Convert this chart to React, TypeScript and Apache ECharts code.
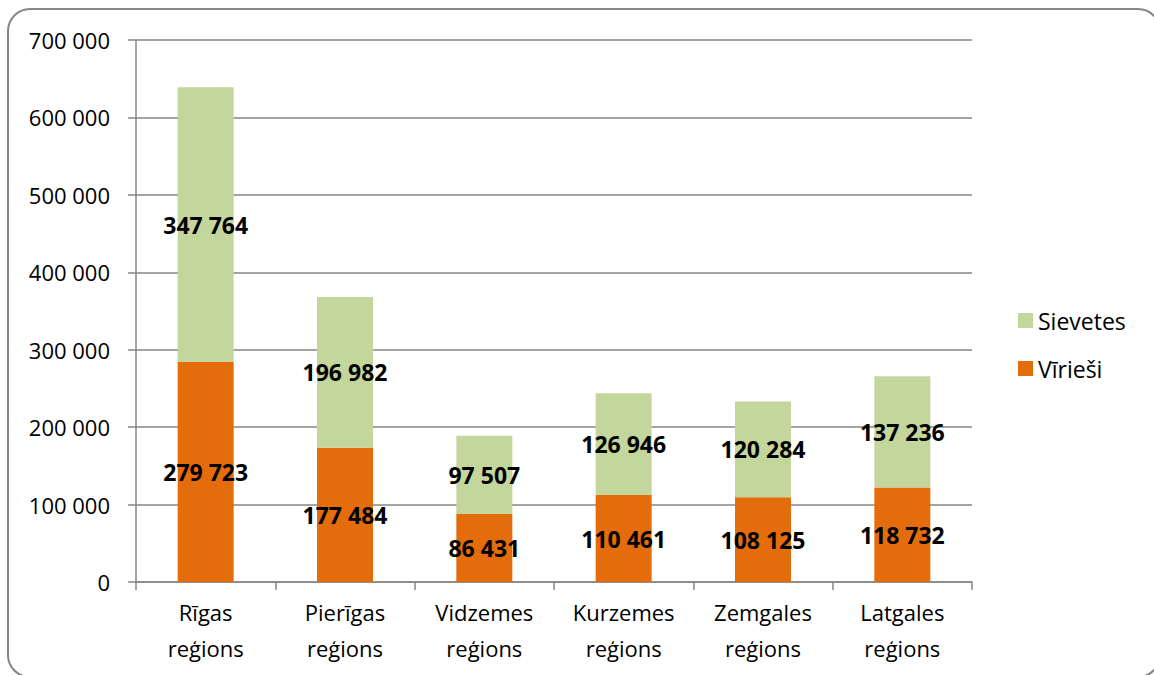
import React, { useEffect, useRef } from "react";
import * as echarts from "echarts";

const categories = ["Rīgas\nreģions", "Pierīgas\nreģions", "Vidzemes\nreģions", "Kurzemes\nreģions", "Zemgales\nreģions", "Latgales\nreģions"];
// bar heights
const menBars = [284300, 173300, 87700, 112300, 109300, 122200];
const womenBars = [354800, 194800, 101100, 131600, 123900, 143600];
// numbers printed on the bars
const menLabels = [279723, 177484, 86431, 110461, 108125, 118732];
const womenLabels = [347764, 196982, 97507, 126946, 120284, 137236];
const seriesNames = ["Vīrieši", "Sievetes"];
const yTicks = { min: 0, max: 700000, interval: 100000 };

const fmt = (v: number) => String(v).replace(/\B(?=(\d{3})+(?!\d))/g, " ");
const FONT = "'Open Sans', sans-serif";

export default function App() {
  const ref = useRef<HTMLDivElement>(null);
  useEffect(() => {
    document.body.style.margin = "0";
    const chart = echarts.init(ref.current!, null, { renderer: "svg" });
    const labelStyle = (labels: number[]) => ({
      show: true,
      position: "inside" as const,
      color: "#000",
      fontWeight: "bold" as const,
      fontSize: 23,
      fontFamily: FONT,
      formatter: (p: any) => fmt(labels[p.dataIndex]),
    });
    chart.setOption({
      animation: false,
      backgroundColor: "#fff",
      textStyle: { fontFamily: FONT },
      graphic: [
        {
          type: "rect",
          shape: { x: 8, y: 9, width: 1152, height: 668, r: 22 },
          style: { fill: "none", stroke: "#868686", lineWidth: 2 },
          silent: true,
        },
      ],
      grid: { left: 136, right: 182, top: 40, bottom: 93, containLabel: false },
      legend: {
        orient: "vertical",
        left: 1013,
        top: 304,
        itemWidth: 15,
        itemHeight: 15,
        itemGap: 25,
        icon: "rect",
        data: ["Sievetes", "Vīrieši"],
        textStyle: { fontSize: 23, fontFamily: FONT, color: "#000" },
      },
      xAxis: {
        type: "category",
        data: categories,
        axisLine: { lineStyle: { color: "#868686", width: 1.5 } },
        axisTick: { show: true, length: 8, lineStyle: { color: "#868686", width: 1.5 } },
        axisLabel: { fontSize: 22, fontFamily: FONT, color: "#000", lineHeight: 36, margin: 12, interval: 0 },
      },
      yAxis: {
        type: "value",
        min: yTicks.min,
        max: yTicks.max,
        interval: yTicks.interval,
        axisLine: { show: true, lineStyle: { color: "#868686", width: 1.5 } },
        axisTick: { show: true, length: 8, lineStyle: { color: "#868686", width: 1.5 } },
        splitLine: { lineStyle: { color: "#868686", width: 1.5 } },
        axisLabel: { fontSize: 22, fontFamily: FONT, color: "#000", margin: 26, formatter: (v: number) => fmt(v) },
      },
      series: [
        {
          name: seriesNames[0],
          type: "bar",
          stack: "total",
          data: menBars,
          barWidth: 56,
          itemStyle: { color: "#E46C0A" },
          label: labelStyle(menLabels),
        },
        {
          name: seriesNames[1],
          type: "bar",
          stack: "total",
          data: womenBars,
          barWidth: 56,
          itemStyle: { color: "#C3D69B" },
          label: labelStyle(womenLabels),
        },
      ],
    });
    return () => chart.dispose();
  }, []);
  return <div ref={ref} style={{ width: 1154, height: 675 }} />;
}
